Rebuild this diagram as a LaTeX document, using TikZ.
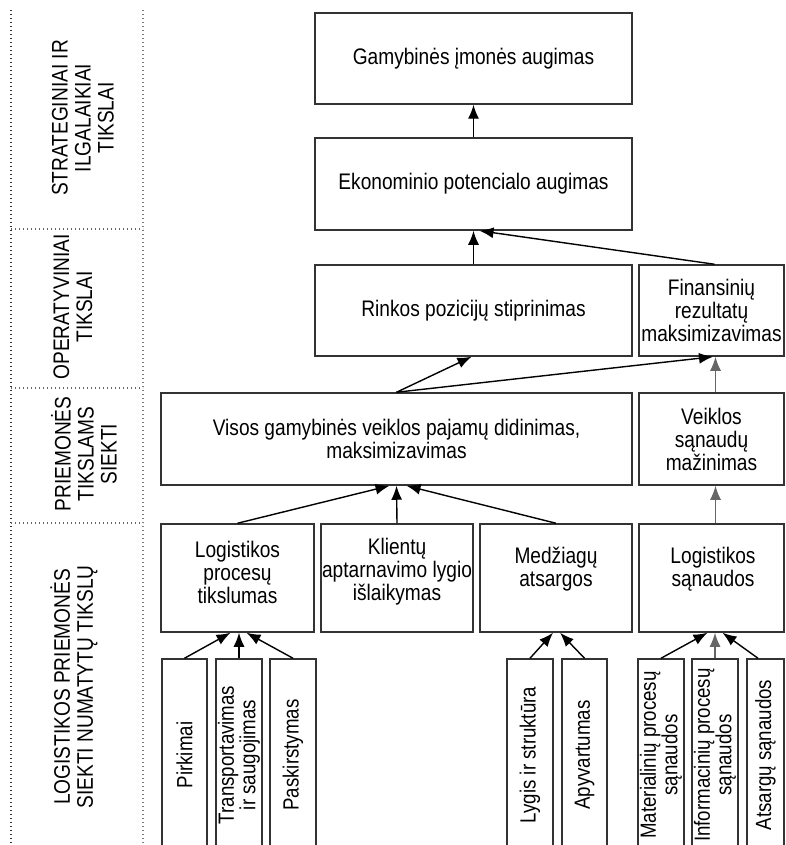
\documentclass[tikz,border=0pt]{standalone}
\usepackage{fontspec}
\setmainfont{Liberation Sans}[FakeStretch=0.85]
\usetikzlibrary{arrows.meta,calc}
\begin{document}
\begin{tikzpicture}[x=1pt,y=-1pt,
  font=\fontsize{22.5}{23}\selectfont,
  box/.style={draw=black!80, line width=1.5pt, inner sep=0pt, align=center},
  txt/.style={inner sep=0pt, align=center},
  narrow/.style={box, rotate=90, minimum width=192pt, minimum height=#1,
    font=\fontsize{22}{18}\selectfont},
  conn/.style={line width=1.4pt, -{Latex[length=14pt,width=11pt]}},
  connlite/.style={conn, draw=black!60},
  sep/.style={line width=1.3pt, dash pattern=on 1.4pt off 2.6pt},
]
\useasboundingbox (0,0) rectangle (785,845);

% level column on the left
\draw[sep, draw=black!80] (11,10) -- (11,845);
\draw[sep, draw=black!50] (143,10) -- (143,845);
\draw[sep, draw=black!60] (11,229) -- (143,229);
\draw[sep, draw=black!60] (11,388) -- (143,388);
\draw[sep, draw=black!60] (11,523) -- (143,523);

\node[txt, rotate=90] (lvl1) at (83,118) {STRATEGINIAI IR\\ILGALAIKIAI\\TIKSLAI};
\node[txt, rotate=90] (lvl2) at (73,307) {OPERATYVINIAI\\TIKSLAI};
\node[txt, rotate=90] (lvl3) at (84,454) {PRIEMONĖS\\TIKSLAMS\\SIEKTI};
\node[txt, rotate=90] (lvl4) at (74,687) {LOGISTIKOS PRIEMONĖS\\SIEKTI NUMATYTŲ TIKSLŲ};

% goals
\node[box, minimum width=317pt, minimum height=91pt] (gam) at (473.5,58.5) {Gamybinės įmonės augimas};
\node[box, minimum width=317pt, minimum height=92pt] (eko) at (473.5,184) {Ekonominio potencialo augimas};
\node[box, minimum width=317pt, minimum height=91pt] (rink) at (473.5,310.5) {Rinkos pozicijų stiprinimas};
\node[box, minimum width=145pt, minimum height=91pt] (fin) at (711.5,310.5) {Finansinių\\rezultatų\\maksimizavimas};

% means
\node[box, minimum width=471pt, minimum height=92pt] (visos) at (396.5,439) {Visos gamybinės veiklos pajamų didinimas,\\maksimizavimas};
\node[box, minimum width=145pt, minimum height=92pt] (veik) at (711.5,439) {Veiklos\\sąnaudų\\mažinimas};

% logistics means
\node[box, minimum width=153pt, minimum height=108pt] (lp) at (237.5,578) {};
\node[txt] (lpt) at (237.5,572) {Logistikos\\procesų\\tikslumas};
\node[box, minimum width=152pt, minimum height=108pt] (kl) at (397,578) {};
\node[txt] (klt) at (397,572) {Klientų\\aptarnavimo lygio\\išlaikymas};
\node[box, minimum width=152pt, minimum height=108pt] (med) at (556,578) {};
\node[txt] (medt) at (556,569) {Medžiagų\\atsargos};
\node[box, minimum width=145pt, minimum height=108pt] (ls) at (711.5,578) {};
\node[txt] (lst) at (713,569) {Logistikos\\sąnaudos};

% activities
\node[narrow=45pt] (pirk) at (184.5,755) {Pirkimai};
\node[narrow=46pt] (trans) at (239,755) {Transportavimas\\ir saugojimas};
\node[narrow=46pt] (pask) at (293,755) {Paskirstymas};
\node[narrow=46pt] (lyg) at (530,755) {Lygis ir struktūra};
\node[narrow=45pt] (apy) at (584.5,755) {Apyvartumas};
\node[narrow=46pt] (mat) at (661,755) {Materialinių procesų\\sąnaudos};
\node[narrow=46pt] (inf) at (715,755) {Informacinių procesų\\sąnaudos};
\node[narrow=37pt] (ats) at (765.5,755) {Atsargų sąnaudos};

% connectors
\draw[conn] (eko.north) -- (gam.south);
\draw[conn] (rink.north) -- (eko.south);
\draw[conn] ($(fin.north)+(3,0)$) -- ($(eko.south)+(6,0)$);
\draw[conn] (visos.north) -- ($(rink.south)+(-2,0)$);
\draw[conn] (visos.north) -- ($(fin.south)+(1.5,0)$);
\draw[connlite] ($(veik.north)+(4,0)$) -- ($(fin.south)+(4,0)$);
\draw[conn] (lp.north) -- ($(visos.south)+(-7,0)$);
\draw[conn] (kl.north) -- (visos.south);
\draw[conn] (med.north) -- ($(visos.south)+(10,0)$);
\draw[connlite] ($(ls.north)+(4,0)$) -- ($(veik.south)+(4,0)$);
\draw[conn] (pirk.east) -- ($(lp.south)+(-7,0)$);
\draw[conn] (trans.east) -- ($(lp.south)+(1.5,0)$);
\draw[conn] (pask.east) -- ($(lp.south)+(9,0)$);
\draw[conn] (lyg.east) -- ($(med.south)+(-3,0)$);
\draw[conn] (apy.east) -- ($(med.south)+(4,0)$);
\draw[conn] (mat.east) -- ($(ls.south)+(-4,0)$);
\draw[connlite] (inf.east) -- ($(ls.south)+(3.5,0)$);
\draw[conn] ($(ats.east)+(-7.5,0)$) -- ($(ls.south)+(11,0)$);
\end{tikzpicture}
\end{document}
